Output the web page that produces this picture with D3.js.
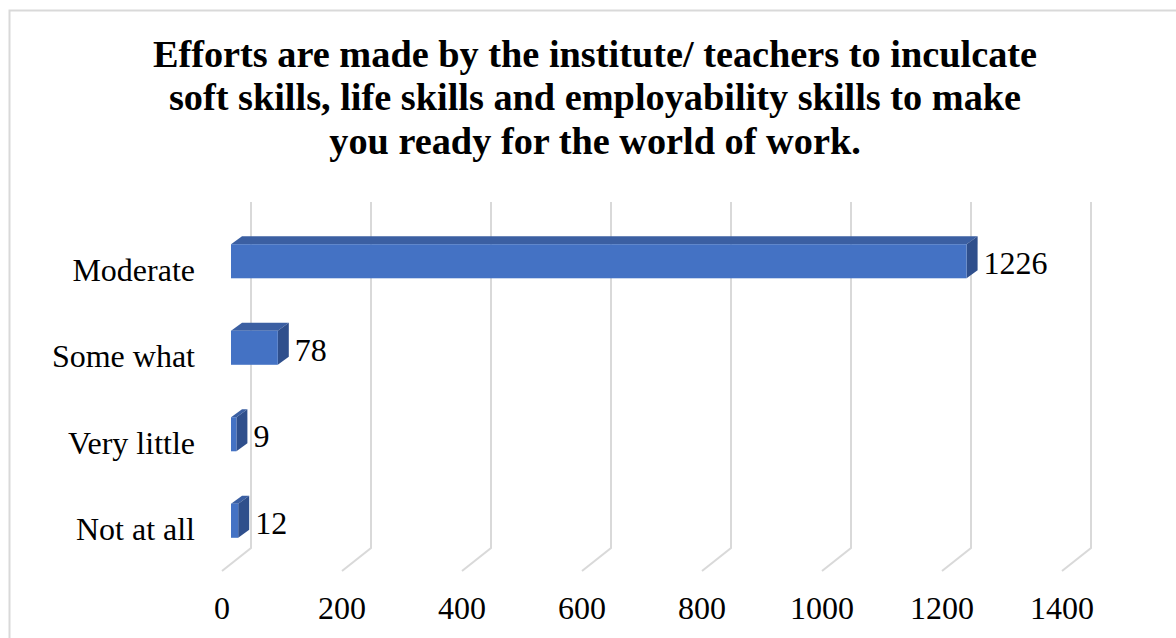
<!DOCTYPE html>
<html>
<head>
<meta charset="utf-8">
<script src="https://cdn.jsdelivr.net/npm/d3@7"></script>
<style>
  html, body { margin: 0; padding: 0; background: #fff; }
  svg { display: block; }
</style>
</head>
<body>
<svg id="chart" width="1176" height="638"></svg>
<script>
const titleLines = [
  "Efforts are made by the institute/ teachers to inculcate",
  "soft skills, life skills and employability skills to make",
  "you ready for the world of work."
];
const categories = ["Moderate", "Some what", "Very little", "Not at all"];
const values = [1226, 78, 9, 12];
const tickValues = [0, 200, 400, 600, 800, 1000, 1200, 1400];

const svg = d3.select("#chart");

// outer border
svg.append("rect").attr("x", 9.5).attr("y", 10.5)
  .attr("width", 1200).attr("height", 700)
  .attr("fill", "#fff").attr("stroke", "#d9d9d9").attr("stroke-width", 2);

// title
const title = svg.append("text")
  .attr("text-anchor", "middle")
  .attr("font-family", "'Liberation Serif', 'Times New Roman', serif")
  .attr("font-weight", "bold")
  .attr("font-size", 38.3)
  .attr("fill", "#000");
titleLines.forEach((t, i) => {
  title.append("tspan").attr("x", 595).attr("y", 67 + i * 43.3).text(t);
});

// scales (back plane)
const x = d3.scaleLinear().domain([0, 1400]).range([251, 1091]);
const y = d3.scaleBand().domain(categories).range([202, 548]).paddingInner(0.606).paddingOuter(0.303);
const step = y.step();

// depth offsets
const floorDx = -29, floorDy = 23;
const barFrontDx = -20, barFrontDy = 16;
const barDepthDx = 11, barDepthDy = -8;

// gridlines: back wall vertical + floor diagonal
const grid = svg.append("g").attr("fill", "none").attr("stroke", "#d9d9d9").attr("stroke-width", 2);
tickValues.forEach(v => {
  const bx = x(v);
  grid.append("path")
    .attr("d", `M${bx},${202}L${bx},${548}L${bx + floorDx},${548 + floorDy}`);
});

// x tick labels
svg.append("g").selectAll("text").data(tickValues).join("text")
  .attr("x", d => x(d) + floorDx)
  .attr("y", 619)
  .attr("text-anchor", "middle")
  .attr("font-family", "'Liberation Serif', 'Times New Roman', serif")
  .attr("font-size", 32)
  .attr("fill", "#000")
  .text(d => d);

// category labels
svg.append("g").selectAll("text").data(categories).join("text")
  .attr("x", 195)
  .attr("y", d => y(d) - step * 0.303 + step / 2 + floorDy + 12.5)
  .attr("text-anchor", "end")
  .attr("font-family", "'Liberation Serif', 'Times New Roman', serif")
  .attr("font-size", 32)
  .attr("fill", "#000")
  .text(d => d);

// bars
const bars = svg.append("g");
categories.forEach((c, i) => {
  const v = values[i];
  const x0 = x(0) + barFrontDx, x1 = x(v) + barFrontDx;
  const y0 = y(c) + barFrontDy, h = y.bandwidth();
  const dx = barDepthDx, dy = barDepthDy;
  bars.append("path")
    .attr("d", `M${x0},${y0}L${x0 + dx},${y0 + dy}L${x1 + dx},${y0 + dy}L${x1},${y0}Z`)
    .attr("fill", "#3B5FA2");
  bars.append("path")
    .attr("d", `M${x1},${y0}L${x1 + dx},${y0 + dy}L${x1 + dx},${y0 + h + dy}L${x1},${y0 + h}Z`)
    .attr("fill", "#2F4F8C");
  bars.append("rect")
    .attr("x", x0).attr("y", y0).attr("width", x1 - x0).attr("height", h)
    .attr("fill", "#4472C4");
  svg.append("text")
    .attr("x", x1 + dx + 6)
    .attr("y", y0 + h / 2 + 13)
    .attr("font-family", "'Liberation Serif', 'Times New Roman', serif")
    .attr("font-size", 32)
    .attr("fill", "#000")
    .text(v);
});
</script>
</body>
</html>
